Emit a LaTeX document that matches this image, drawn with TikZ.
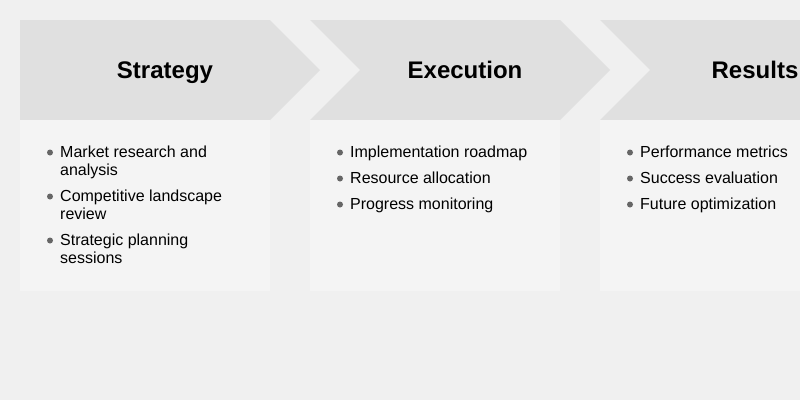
\documentclass[tikz,border=0pt]{standalone}
\usepackage{fontspec}
\setmainfont{Liberation Sans}
\definecolor{pagebg}{HTML}{F0F0F0}
\definecolor{headfill}{HTML}{E0E0E0}
\definecolor{bodyfill}{HTML}{F4F4F4}
\definecolor{dotgray}{HTML}{666666}
\begin{document}
\begin{tikzpicture}[x=1pt,y=-1pt,
  headtext/.style={font=\fontsize{24}{28}\selectfont\bfseries, text=black, inner sep=0pt, anchor=base},
  itemtext/.style={font=\fontsize{16}{18}\selectfont, text=black, inner sep=0pt, anchor=base west, align=left},
  dot/.style={fill=dotgray}]
  \useasboundingbox (0,0) rectangle (800,400);
  \fill[pagebg] (0,0) rectangle (800,400);

  % stage headers (chevrons)
  \fill[headfill] (20,20) -- (270,20) -- (320,70) -- (270,120) -- (20,120) -- cycle;
  \fill[headfill] (310,20) -- (560,20) -- (610,70) -- (560,120) -- (310,120) -- (360,70) -- cycle;
  \fill[headfill] (600,20) -- (850,20) -- (900,70) -- (850,120) -- (600,120) -- (650,70) -- cycle;

  % stage bodies
  \fill[bodyfill] (20,120) rectangle (270,291);
  \fill[bodyfill] (310,120) rectangle (560,291);
  \fill[bodyfill] (600,120) rectangle (850,291);

  \node[headtext] (h1) at (165,78) {Strategy};
  \node[headtext] (h2) at (465,78) {Execution};
  \node[headtext] (h3) at (755,78) {Results};

  % Strategy items (two-line nodes are placed by their last baseline)
  \fill[dot] (50,152.5) circle (3);
  \node[itemtext] (s1) at (60,175) {Market research and\\analysis};
  \fill[dot] (50,196.5) circle (3);
  \node[itemtext] (s2) at (60,219) {Competitive landscape\\review};
  \fill[dot] (50,240.5) circle (3);
  \node[itemtext] (s3) at (60,263) {Strategic planning\\sessions};

  % Execution items
  \fill[dot] (340,152.5) circle (3);
  \node[itemtext] (e1) at (350,157) {Implementation roadmap};
  \fill[dot] (340,178.5) circle (3);
  \node[itemtext] (e2) at (350,183) {Resource allocation};
  \fill[dot] (340,204.5) circle (3);
  \node[itemtext] (e3) at (350,209) {Progress monitoring};

  % Results items
  \fill[dot] (630,152.5) circle (3);
  \node[itemtext] (r1) at (640,157) {Performance metrics};
  \fill[dot] (630,178.5) circle (3);
  \node[itemtext] (r2) at (640,183) {Success evaluation};
  \fill[dot] (630,204.5) circle (3);
  \node[itemtext] (r3) at (640,209) {Future optimization};
\end{tikzpicture}
\end{document}
